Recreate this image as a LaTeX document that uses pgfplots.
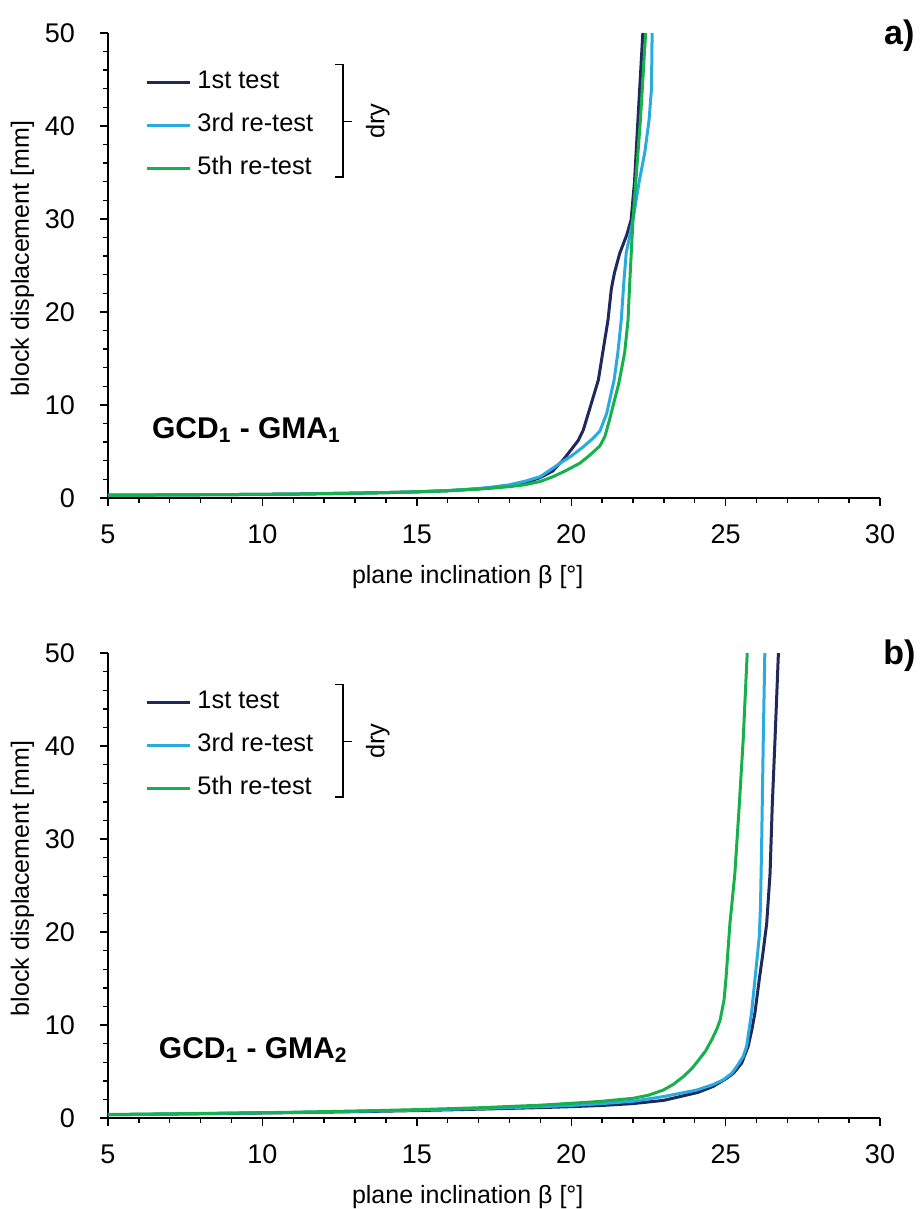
\documentclass[border=0pt]{standalone}
\usepackage{fontspec}
\setmainfont{Liberation Sans}
\usepackage{pgfplots}
\pgfplotsset{compat=1.18}

\definecolor{navy}{RGB}{31,41,92}
\definecolor{sky}{RGB}{41,171,226}
\definecolor{grn}{RGB}{22,176,76}

\tikzset{bigbold/.style={font=\bfseries\fontsize{15}{17}\selectfont}}

\pgfplotsset{
  panel/.style={
    width=386pt, height=232.5pt, scale only axis,
    xmin=5, xmax=30, ymin=0, ymax=50,
    clip mode=individual,
    axis lines*=left,
    axis line style={line width=0.9pt},
    xtick={5,10,...,30}, ytick={0,10,...,50},
    minor x tick num=4, minor y tick num=4,
    tick align=outside,
    major tick length=4pt, minor tick length=2.5pt,
    tick style={line width=0.7pt, black},
    /pgf/number format/assume math mode=true,
    ticklabel style={font=\fontsize{13.5}{15}\selectfont},
    xticklabel style={yshift=-6pt},
    yticklabel style={xshift=-9pt},
    label style={font=\fontsize{12.5}{14}\selectfont},
    xlabel={plane inclination β [°]},
    ylabel={block displacement [mm]},
    xlabel style={at={(axis description cs:0.466,-0.17)}, anchor=center},
    ylabel style={at={(axis description cs:-0.111,0.515)}, anchor=center},
    legend style={at={(0.048,0.92)}, anchor=north west, draw=none, fill=none,
      inner sep=0pt, column sep=3pt, row sep=10pt,
      font=\fontsize{12.7}{14}\selectfont,
      nodes={inner sep=0pt, text height=9pt, text depth=2.5pt}},
    legend cell align=left,
    legend image code/.code={\draw[#1] (0pt,0pt) -- (21.5pt,0pt);},
    every axis plot/.append style={line width=1.5pt, line join=round},
  },
}

\begin{document}
\begin{tikzpicture}

% ---- a) ----
\begin{axis}[panel, at={(0,0)}, anchor=south west]
\addplot[navy] coordinates {(5,0.30) (7,0.33) (9,0.37) (11,0.42) (13,0.52) (14,0.58) (15,0.66) (16,0.78) (17,0.98) (17.5,1.12) (18,1.32) (18.5,1.62) (19,2.2) (19.4,2.9) (19.74,4.1) (20,5.2) (20.23,6.2) (20.39,7.3) (20.6,9.6) (20.88,12.7) (21.0,15.2) (21.19,19.1) (21.3,22.5) (21.4,24.2) (21.57,26.3) (21.8,28.3) (21.94,29.9) (22.05,34) (22.15,40) (22.32,50)};
\addplot[sky] coordinates {(5,0.30) (7,0.33) (9,0.37) (11,0.42) (13,0.52) (14,0.58) (15,0.67) (16,0.80) (17,1.02) (17.5,1.2) (18,1.42) (18.5,1.8) (19,2.3) (19.64,3.74) (20,4.5) (20.39,5.5) (20.7,6.4) (20.93,7.2) (21.15,9.1) (21.39,12.7) (21.51,15.6) (21.62,19.1) (21.7,23) (21.78,26.3) (22.0,29.9) (22.2,34) (22.38,37.1) (22.52,40.6) (22.6,44) (22.62,50)};
\addplot[grn] coordinates {(5,0.30) (7,0.33) (9,0.37) (11,0.42) (13,0.52) (14,0.58) (15,0.66) (16,0.78) (17,0.96) (17.5,1.08) (18,1.22) (18.5,1.42) (19,1.78) (19.42,2.3) (19.8,2.9) (20.28,3.74) (20.6,4.6) (20.93,5.6) (21.09,6.6) (21.24,8.4) (21.4,10.5) (21.54,12.3) (21.73,15.6) (21.84,19.1) (21.89,22.8) (22.0,29.9) (22.24,40.6) (22.41,50)};
\legend{1st test,3rd re-test,5th re-test}
\draw[line width=0.8pt] (axis cs:12.35,46.6) -- (axis cs:12.61,46.6) -- (axis cs:12.61,34.5) -- (axis cs:12.35,34.5);
\draw[line width=0.8pt] (axis cs:12.61,40.5) -- (axis cs:12.9,40.5);
\node[rotate=90, font=\fontsize{12.7}{14}\selectfont] at (axis cs:13.74,40.5) {dry};
\node[bigbold, anchor=west] at (axis cs:6.2,7.3) {GCD\textsubscript{1} - GMA\textsubscript{1}};
\node[font=\bfseries\fontsize{17}{19}\selectfont] at (rel axis cs:1.025,0.995) {a)};
\end{axis}

% ---- b) ----
\begin{axis}[panel, at={(0,-310pt)}, anchor=south west]
\addplot[navy] coordinates {(5,0.35) (7,0.42) (9,0.5) (11,0.58) (13,0.68) (15,0.8) (17,0.95) (19,1.12) (20,1.22) (21,1.35) (22,1.55) (23,1.9) (23.52,2.3) (24.1,2.75) (24.6,3.4) (25.0,4.2) (25.25,4.8) (25.52,5.9) (25.73,7.7) (25.85,9.5) (25.95,11.3) (26.09,14.9) (26.2,17.5) (26.33,20.9) (26.44,26.3) (26.51,33.5) (26.6,40.7) (26.71,50)};
\addplot[sky] coordinates {(5,0.35) (7,0.43) (9,0.52) (11,0.6) (13,0.72) (15,0.85) (17,1.02) (19,1.22) (20,1.35) (21,1.55) (22,1.8) (22.98,2.3) (24.06,3.0) (24.6,3.6) (24.92,4.1) (25.2,4.8) (25.36,5.53) (25.57,6.6) (25.68,7.7) (25.76,9.5) (25.84,11.3) (25.95,14.9) (26.03,17.5) (26.09,19.5) (26.13,22.8) (26.17,30) (26.22,40.7) (26.27,50)};
\addplot[grn] coordinates {(5,0.38) (7,0.45) (9,0.53) (11,0.62) (13,0.75) (15,0.9) (17,1.1) (19,1.38) (20,1.58) (21,1.8) (22,2.12) (22.5,2.45) (22.98,3.0) (23.3,3.6) (23.63,4.45) (23.9,5.3) (24.12,6.2) (24.35,7.2) (24.55,8.4) (24.72,9.6) (24.82,10.5) (24.95,12.7) (25.01,14.9) (25.14,20.9) (25.30,26.3) (25.44,33.5) (25.57,40.7) (25.70,50)};
\legend{1st test,3rd re-test,5th re-test}
\draw[line width=0.8pt] (axis cs:12.35,46.6) -- (axis cs:12.61,46.6) -- (axis cs:12.61,34.5) -- (axis cs:12.35,34.5);
\draw[line width=0.8pt] (axis cs:12.61,40.5) -- (axis cs:12.9,40.5);
\node[rotate=90, font=\fontsize{12.7}{14}\selectfont] at (axis cs:13.74,40.5) {dry};
\node[bigbold, anchor=west] at (axis cs:6.42,7.3) {GCD\textsubscript{1} - GMA\textsubscript{2}};
\node[font=\bfseries\fontsize{17}{19}\selectfont] at (rel axis cs:1.025,0.995) {b)};
\end{axis}

\pgfresetboundingbox
\path[use as bounding box] (-54pt,-355.5pt) rectangle (406pt,249pt);
\end{tikzpicture}
\end{document}
